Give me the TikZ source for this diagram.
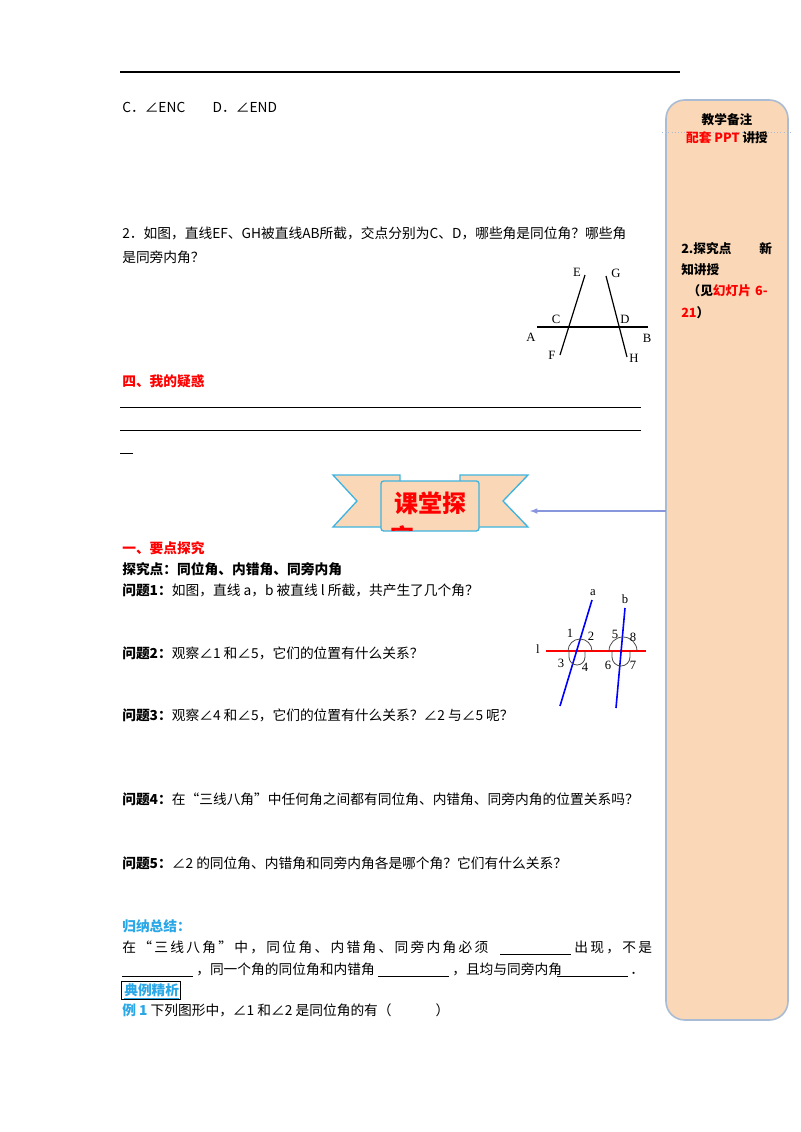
\documentclass[tikz,border=0pt]{standalone}
\usepackage{fontspec}
\setmainfont{Noto Sans CJK SC}
\newfontfamily\latin{Liberation Serif}
\begin{document}
\begin{tikzpicture}[x=0.75pt,y=-0.75pt,
  t/.style={anchor=base west,inner sep=0pt,font=\fontsize{10.3pt}{12pt}\selectfont},
  lab/.style={inner sep=0pt,font=\latin\fontsize{9.5pt}{10pt}\selectfont},
  blk/.style={line width=0.9pt},
  arcs/.style={gray!60!black,line width=0.6pt}]
\definecolor{peach}{HTML}{FAD7B6}
\definecolor{sbd}{HTML}{A9BCD4}
\definecolor{rib}{HTML}{3FB4E0}
\definecolor{myblue}{HTML}{2AA7E6}
\useasboundingbox (0,0) rectangle (800,1132);
\fill[white] (0,0) rectangle (800,1132);
\draw[line width=0.8pt] (120,72) -- (680,72);
% sidebar
\draw[sbd,fill=peach,line width=1.2pt,rounded corners=14pt] (666,100) rectangle (788,1020);
\draw[sbd,dotted] (662,132) -- (792,132);
\node[inner sep=0pt,font=\bfseries\fontsize{9.5pt}{11pt}\selectfont] (sb1) at (727,120) {教学备注};
\node[inner sep=0pt,font=\bfseries\fontsize{9.5pt}{11pt}\selectfont] (sb2) at (727,138) {\textcolor{red}{配套 PPT} 讲授};
\node[anchor=north west,inner sep=0pt,text width=92pt,align=left,font=\bfseries\fontsize{9.5pt}{16pt}\selectfont] (sb3) at (681,242)
 {2.探究点\hspace{2.2em}新\\知讲授\\\hspace*{0.5em}（见\textcolor{red}{幻灯片 6-}\\\textcolor{red}{21}）};
% text
\node[t] (c) at (122,112) {C．∠ENC\hspace{2em}D．∠END};
\node[t] (q2a) at (122,238) {2．如图，直线EF、GH被直线AB所截，交点分别为C、D，哪些角是同位角？哪些角};
\node[t] (q2b) at (122,262) {是同旁内角？};
% fig 1
\draw[blk] (537,327) coordinate (A0) -- (648,327) coordinate (B0);
\draw[blk] (585,275) coordinate (E0) -- (560,355) coordinate (F0);
\draw[blk] (606,276) coordinate (G0) -- (627,357) coordinate (H0);
\node[lab] (E) at (577,272) {E};
\node[lab] (G) at (616,273) {G};
\node[lab] (C) at (556,319) {C};
\node[lab] (D) at (625,319) {D};
\node[lab] (A) at (531,337) {A};
\node[lab] (B) at (647,338) {B};
\node[lab] (F) at (552,355) {F};
\node[lab] (H) at (634,358) {H};
\node[t,text=red,font=\bfseries\fontsize{10.3pt}{12pt}\selectfont] (s4) at (122,386) {四、我的疑惑};
\draw[line width=0.5pt] (120,407) -- (641,407);
\draw[line width=0.5pt] (120,430) -- (641,430);
\draw[line width=0.5pt] (120,453) -- (133,453);
% banner
\draw[rib,fill=peach,line width=1pt] (333,475) -- (400,475) -- (400,527) -- (333,527) -- (357,501) -- cycle;
\draw[rib,fill=peach,line width=1pt] (460,475) -- (528,475) -- (503,501) -- (528,527) -- (460,527) -- cycle;
\draw[rib,fill=peach,line width=1pt,rounded corners=2pt] (381,481) rectangle (479,531);
\node[inner sep=0pt,text=red,font=\bfseries\fontsize{18pt}{19pt}\selectfont] (ban) at (430,503) {课堂探};
\begin{scope}
\clip (382,482) rectangle (478,530);
\node[anchor=west,inner sep=0pt,text=red,font=\bfseries\fontsize{18pt}{19pt}\selectfont] (ban2) at (390,537) {究};
\end{scope}
\coordinate (ar0) at (666,511);
\draw[sbd!80!blue,line width=0.9pt,-latex] (ar0) -- (530,511);
\node[t,text=red,font=\bfseries\fontsize{10.3pt}{12pt}\selectfont] (y1) at (122,553) {一、要点探究};
\node[t,font=\bfseries\fontsize{10.3pt}{12pt}\selectfont] (tj) at (122,574) {探究点：同位角、内错角、同旁内角};
\node[t] (w1) at (122,595) {\textbf{问题1：}如图，直线 a，b 被直线 l 所截，共产生了几个角？};
\node[t] (w2) at (122,658) {\textbf{问题2：}观察∠1 和∠5，它们的位置有什么关系？};
\node[t] (w3) at (122,720) {\textbf{问题3：}观察∠4 和∠5，它们的位置有什么关系？∠2 与∠5 呢？};
\node[t] (w4) at (122,804) {\textbf{问题4：}在“三线八角”中任何角之间都有同位角、内错角、同旁内角的位置关系吗？};
\node[t] (w5) at (122,868) {\textbf{问题5：}∠2 的同位角、内错角和同旁内角各是哪个角？它们有什么关系？};
% fig 2
\draw[red,line width=1pt] (546,651) -- (646,651);
\draw[blue,line width=1.2pt] (592,600) -- (560,706);
\draw[blue,line width=1.2pt] (625,608) -- (616,708);
\draw[arcs] (568,651) arc [start angle=180,end angle=360,radius=12];
\draw[arcs] (569,651) -- (569,657) arc [start angle=180,end angle=0,radius=8] -- (585,651);
\draw[arcs] (609,651) arc [start angle=180,end angle=360,radius=14];
\draw[arcs] (612,651) -- (612,657) arc [start angle=180,end angle=0,radius=9] -- (630,651);
\node[lab] (la) at (593,593) {a};
\node[lab] (lb) at (625,599) {b};
\node[lab] (ll) at (538,649) {l};
\node[lab] (n1) at (570,633) {1};
\node[lab] (n2) at (591,636) {2};
\node[lab] (n5) at (615,634) {5};
\node[lab] (n8) at (633,637) {8};
\node[lab] (n3) at (561,663) {3};
\node[lab] (n4) at (585,667) {4};
\node[lab] (n6) at (608,665) {6};
\node[lab] (n7) at (633,665) {7};
% summary
\node[t,text=myblue,font=\bfseries\fontsize{10.3pt}{12pt}\selectfont] (gn) at (122,931) {归纳总结：};
\node[t] (l1a) at (122,952) {在\,“\,三\,线\,八\,角\,”\,中\,，\,同\,位\,角\,、\,内\,错\,角\,、\,同\,旁\,内\,角\,必\,须};
\draw[line width=0.5pt] (500,954) -- (571,954);
\node[t] (l1b) at (574,952) {出\,现\,，\,不\,是};
\draw[line width=0.5pt] (122,976) -- (193,976);
\node[t] (l2a) at (196,974) {，同一个角的同位角和内错角};
\draw[line width=0.5pt] (378,976) -- (449,976);
\node[t] (l2b) at (452,974) {，且均与同旁内角};
\draw[line width=0.5pt] (557,976) -- (628,976);
\node[t] (l2c) at (630,974) {．};
\node[t,text=myblue,font=\bfseries\fontsize{10.3pt}{12pt}\selectfont] (dl) at (124,995) {\underline{典例精析}};
\draw[line width=0.6pt] (121,981) rectangle (180,999);
\node[t] (e1) at (122,1015) {\textcolor{myblue}{\textbf{例 1}} 下列图形中，∠1 和∠2 是同位角的有（\hspace{3.2em}）};
\end{tikzpicture}
\end{document}
